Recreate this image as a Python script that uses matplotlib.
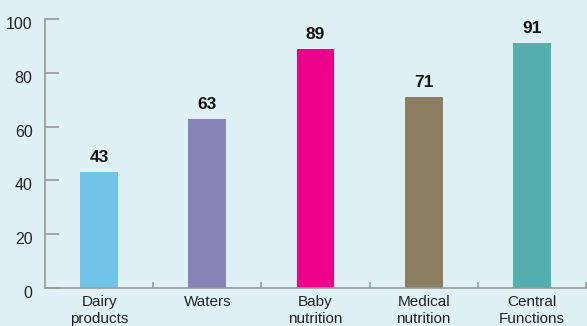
import matplotlib
matplotlib.use("Agg")
import matplotlib.pyplot as plt
import matplotlib.transforms as mtransforms
from matplotlib import font_manager

categories = ["Dairy\nproducts", "Waters", "Baby\nnutrition", "Medical\nnutrition", "Central\nFunctions"]
values = [43, 63, 89, 71, 91]
colors = ["#72c3e8", "#8683b5", "#ec008c", "#8b7d60", "#52afad"]
yticks = [0, 20, 40, 60, 80, 100]

names = {f.name for f in font_manager.fontManager.ttflist}
fam = "Liberation Sans Narrow" if "Liberation Sans Narrow" in names else "Liberation Sans"
plt.rcParams["font.family"] = [fam, "DejaVu Sans"]

bg = "#e0f1f6"
fig = plt.figure(figsize=(5.87, 3.26), dpi=100, facecolor=bg)
ax = fig.add_axes([45/587, 1-288/326, 541/587, (288-19)/326], facecolor=bg)

x = list(range(len(categories)))
ax.bar(x, values, width=0.35, color=colors, zorder=2)
for xi, v in zip(x, values):
    ax.annotate(str(v), (xi, v), xytext=(0, 5), textcoords="offset points",
                ha="center", va="bottom", fontsize=12.5, fontweight="bold", color="#111111")

ax.set_xlim(-0.5, len(categories) - 0.5)
ax.set_ylim(0, 100)
ax.set_yticks(yticks)
ax.set_yticklabels([str(t) for t in yticks], fontsize=11.5, color="#222222")
ax.set_xticks(x)
ax.set_xticklabels(categories, fontsize=11, color="#222222", linespacing=1.3)
ax.tick_params(axis="x", length=0, pad=5)
ax.tick_params(axis="y", direction="in", length=10, width=1.2, color="#999999", pad=9)
ax.set_xticks([i + 0.5 for i in range(len(categories))], minor=True)
ax.tick_params(axis="x", which="minor", direction="in", length=4, width=1.2, color="#999999")

offset = mtransforms.ScaledTranslation(0, -4/100, fig.dpi_scale_trans)
for lab in ax.get_yticklabels():
    lab.set_transform(lab.get_transform() + offset)

for s in ["top", "right"]:
    ax.spines[s].set_visible(False)
for s in ["left", "bottom"]:
    ax.spines[s].set_color("#999999")
    ax.spines[s].set_linewidth(1.2)

fig.savefig("out.png", dpi=100, facecolor=bg)
